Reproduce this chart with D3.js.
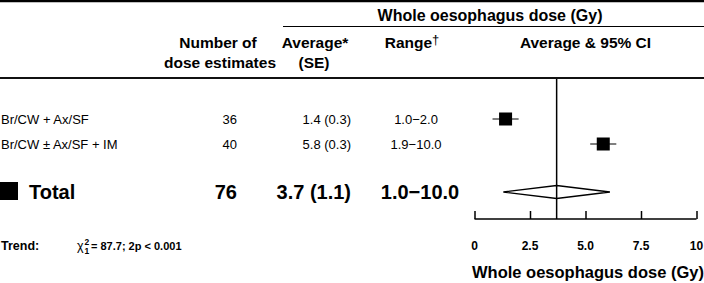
<!doctype html>
<html>
  <head>
    <meta charset="utf-8">
    <script src="https://d3js.org/d3.v7.min.js"></script>
    <style>
      body { margin: 0; background: #fff; }
      text { font-family: 'Liberation Sans', Arial, sans-serif; fill: #000; }
    </style>
  </head>
  <body>
    <svg id="chart" width="704" height="283"></svg>
    <script>
      var groups = ['Br/CW + Ax/SF', 'Br/CW \u00b1 Ax/SF + IM']
      var counts = [36, 40]
      var averages = [1.4, 5.8]
      var ses = [0.3, 0.3]
      var ranges = ['1.0\u22122.0', '1.9\u221210.0']

      var total = { n: 76, avg: 3.7, se: 1.1, range: '1.0\u221210.0', lo: 1.3, hi: 6.1 }
      var ticks = [0, 2.5, 5, 7.5, 10]
      var tickLabels = ['0', '2.5', '5.0', '7.5', '10']

      var svg = d3.select('#chart')
      var W = 704

      var x = d3.scaleLinear().domain([0, 10]).range([474.5, 696.5])
      var y = d3.scaleOrdinal().domain(groups.concat(['Total'])).range([119, 144, 192])

      // rules
      svg.append('line').attr('x1', 0).attr('x2', W).attr('y1', 1).attr('y2', 1)
        .attr('stroke', '#000').attr('stroke-width', 2.5)
      svg.append('line').attr('x1', 283).attr('x2', W).attr('y1', 26.5).attr('y2', 26.5)
        .attr('stroke', '#000').attr('stroke-width', 1.2)
      svg.append('line').attr('x1', 0).attr('x2', W).attr('y1', 78).attr('y2', 78)
        .attr('stroke', '#111').attr('stroke-width', 2.2)

      // headers
      var hdr = svg.append('g').style('font-weight', 'bold').style('font-size', '15.5px')
      hdr.append('text').attr('x', 490).attr('y', 21).attr('text-anchor', 'middle')
        .style('font-size', '16px').text('Whole oesophagus dose (Gy)')
      hdr.append('text').attr('x', 218).attr('y', 47.5).attr('text-anchor', 'middle').text('Number of')
      hdr.append('text').attr('x', 220).attr('y', 67.5).attr('text-anchor', 'middle').text('dose estimates')
      hdr.append('text').attr('x', 315).attr('y', 47.5).attr('text-anchor', 'middle').text('Average*')
      hdr.append('text').attr('x', 314).attr('y', 67.5).attr('text-anchor', 'middle').text('(SE)')
      var rg = hdr.append('text').attr('x', 412).attr('y', 47.5).attr('text-anchor', 'middle')
      rg.append('tspan').text('Range')
      rg.append('tspan').attr('dy', -4).style('font-size', '13px').style('font-weight', 'normal').text('\u2020')
      hdr.append('text').attr('x', x(5)).attr('y', 47.5).attr('text-anchor', 'middle').text('Average & 95% CI')

      // group rows
      var fs = '13px'
      var rows = svg.selectAll('g.row').data(groups).enter().append('g').attr('class', 'row')
      rows.append('text').attr('x', 1).attr('y', (d) => y(d) + 5)
        .style('font-size', fs).text((d) => d)
      rows.append('text').attr('x', 237).attr('y', (d) => y(d) + 5).attr('text-anchor', 'end')
        .style('font-size', fs).text((d, i) => counts[i])
      rows.append('text').attr('x', 351).attr('y', (d) => y(d) + 5).attr('text-anchor', 'end')
        .style('font-size', fs).text((d, i) => averages[i].toFixed(1) + ' (' + ses[i].toFixed(1) + ')')
      rows.append('text').attr('x', 416).attr('y', (d) => y(d) + 5).attr('text-anchor', 'middle')
        .style('font-size', fs).text((d, i) => ranges[i])
      rows.append('line')
        .attr('x1', (d, i) => x(averages[i] - 1.96 * ses[i]))
        .attr('x2', (d, i) => x(averages[i] + 1.96 * ses[i]))
        .attr('y1', (d) => y(d)).attr('y2', (d) => y(d))
        .attr('stroke', '#000').attr('stroke-width', 1)
      var sq = 13
      rows.append('rect')
        .attr('x', (d, i) => x(averages[i]) - sq / 2)
        .attr('y', (d) => y(d) - sq / 2)
        .attr('width', sq).attr('height', sq).attr('fill', '#000')

      // total row
      var ty = y('Total')
      svg.append('rect').attr('x', 0).attr('y', ty - 10).attr('width', 18).attr('height', 18).attr('fill', '#000')
      var tot = svg.append('g').style('font-weight', 'bold').style('font-size', '20px')
      tot.append('text').attr('x', 29).attr('y', ty + 7).text('Total')
      tot.append('text').attr('x', 237).attr('y', ty + 7).attr('text-anchor', 'end').text(total.n)
      tot.append('text').attr('x', 351).attr('y', ty + 7).attr('text-anchor', 'end')
        .text(total.avg.toFixed(1) + ' (' + total.se.toFixed(1) + ')')
      tot.append('text').attr('x', 420).attr('y', ty + 7).attr('text-anchor', 'middle').text(total.range)

      var dh = 6.5
      svg.append('path')
        .attr('d', d3.line()([
          [x(total.lo), ty], [x(total.avg), ty - dh], [x(total.hi), ty], [x(total.avg), ty + dh]
        ]) + 'Z')
        .attr('fill', 'none').attr('stroke', '#000').attr('stroke-width', 1.3)

      // vertical reference line at overall average
      var axisY = 219
      svg.append('line').attr('x1', x(total.avg)).attr('x2', x(total.avg))
        .attr('y1', 79).attr('y2', axisY)
        .attr('stroke', '#000').attr('stroke-width', 1.5)

      // axis
      var ax = svg.append('g').attr('transform', 'translate(0,' + axisY + ')')
        .call(d3.axisTop(x).tickValues(ticks).tickSize(8).tickFormat(''))
      ax.select('.domain').attr('d', 'M' + x(0) + ',0H' + x(10)).attr('stroke-width', 1.5)
      ax.selectAll('.tick line').attr('stroke-width', 1.5)
      svg.selectAll('text.tl').data(ticks).enter().append('text').attr('class', 'tl')
        .attr('x', (d) => x(d)).attr('y', 250).attr('text-anchor', 'middle')
        .style('font-size', '12px').style('font-weight', 'bold')
        .text((d, i) => tickLabels[i])
      svg.append('text').attr('x', 588).attr('y', 278).attr('text-anchor', 'middle')
        .style('font-size', '16.5px').style('font-weight', 'bold').text('Whole oesophagus dose (Gy)')

      // trend test
      var tr = svg.append('g').style('font-weight', 'bold').style('font-size', '11px')
      tr.append('text').attr('x', 1).attr('y', 250).style('font-size', '12.5px').text('Trend:')
      tr.append('text').attr('x', 77).attr('y', 250).style('font-weight', 'normal').style('font-size', '12.5px').text('\u03c7')
      tr.append('text').attr('x', 84.5).attr('y', 245).style('font-size', '8.5px').text('2')
      tr.append('text').attr('x', 84.5).attr('y', 253.5).style('font-size', '8.5px').text('1')
      tr.append('text').attr('x', 91).attr('y', 250).text('= 87.7;  2p < 0.001')
    </script>
  </body>
</html>
